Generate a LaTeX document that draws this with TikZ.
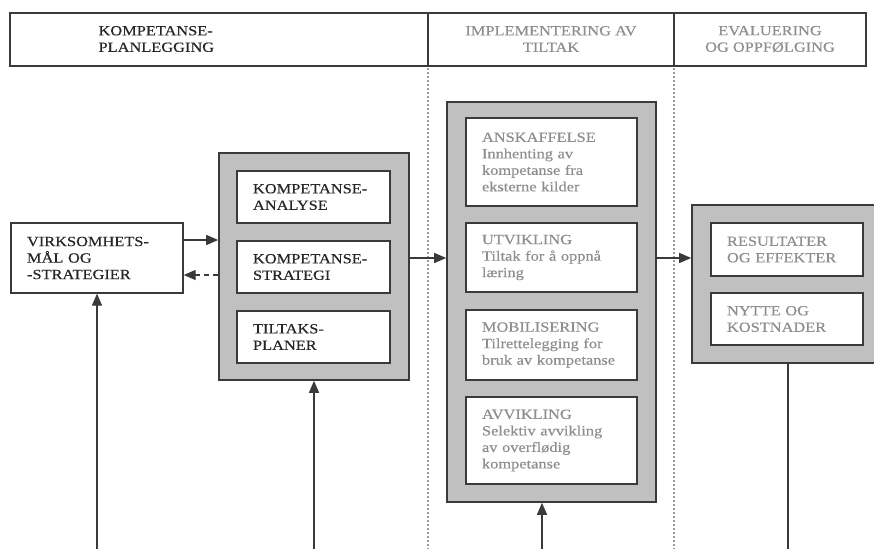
\documentclass[tikz,border=0pt]{standalone}
\usepackage{fontspec}
\setmainfont{Liberation Serif}[FakeStretch=1.17,UprightFeatures={FakeBold=0.35}]
\usetikzlibrary{arrows.meta}
\definecolor{panelgrey}{HTML}{C0C0C0}
\definecolor{edgegrey}{HTML}{3A3A3A}
\definecolor{textgrey}{HTML}{8E8E8E}

\begin{document}
\begin{tikzpicture}[x=1pt,y=-1pt,
    txt/.style={font=\fontsize{14}{16.5}\selectfont,text=black!85},
    faint/.style={text=textgrey},
    panel/.style={draw=edgegrey,fill=panelgrey,line width=1.6pt,inner sep=0pt},
    box/.style={txt,draw=edgegrey,fill=white,line width=1.4pt,inner xsep=16pt,inner ysep=0pt,align=left},
    flow/.style={line width=1.4pt,draw=edgegrey,-{Triangle[length=12pt,width=10pt]}},
    phase/.style={draw=gray!80,line width=1.5pt,dash pattern=on 1.5pt off 2.5pt}]

\clip (0,0) rectangle (874,549);
\fill[white] (0,0) rectangle (874,549);

% phases
\draw[line width=1.5pt,draw=edgegrey] (10,13) rectangle (866,66);
\foreach \x in {428,674} {
    \draw[line width=1.5pt,draw=edgegrey] (\x,13) -- (\x,66);
    \draw[phase] (\x,68) -- (\x,549);
}
\node[txt,align=left,anchor=west] (hplan) at (95,39) {KOMPETANSE-\\PLANLEGGING};
\node[txt,faint,align=center] (himpl) at (551,39) {IMPLEMENTERING AV\\TILTAK};
\node[txt,faint,align=center] (heval) at (770,39) {EVALUERING\\OG OPPFØLGING};

% planning
\node[box,text width=140pt,minimum height=70pt] (goals) at (97,258) {VIRKSOMHETS-\\MÅL OG\\-STRATEGIER};

\node[panel,minimum width=190pt,minimum height=227pt] (plan) at (314,266.5) {};
\node[box,text width=121pt,minimum height=52pt] (analyse) at (313.5,197) {KOMPETANSE-\\ANALYSE};
\node[box,text width=121pt,minimum height=52pt] (strategi) at (313.5,267) {KOMPETANSE-\\STRATEGI};
\node[box,text width=121pt,minimum height=52pt] (tiltak) at (313.5,337) {TILTAKS-\\PLANER};

% implementation
\node[panel,minimum width=209pt,minimum height=400pt] (impl) at (551.5,302) {};
\node[box,faint,text width=139pt,minimum height=88pt] (anskaff) at (551.5,162) {ANSKAFFELSE\\Innhenting av\\kompetanse fra\\eksterne kilder};
\node[box,faint,text width=139pt,minimum height=69pt] (utvikl) at (551.5,257.5) {UTVIKLING\\Tiltak for å oppnå\\læring};
\node[box,faint,text width=139pt,minimum height=70pt] (mobil) at (551.5,345) {MOBILISERING\\Tilrettelegging for\\bruk av kompetanse};
\node[box,faint,text width=139pt,minimum height=87pt] (avvikl) at (551.5,440.5) {AVVIKLING\\Selektiv avvikling\\av overflødig\\kompetanse};

% evaluation
\node[panel,minimum width=208pt,minimum height=158pt] (eval) at (796,284) {};
\node[box,faint,text width=120pt,minimum height=53pt] (result) at (787,249.5) {RESULTATER\\OG EFFEKTER};
\node[box,faint,text width=120pt,minimum height=52pt] (nytte) at (787,319) {NYTTE OG\\KOSTNADER};

% connectors
\coordinate (g1) at ([yshift=18pt]goals.east);
\coordinate (g2) at ([yshift=-17pt]goals.east);
\draw[flow] (g1) -- (g1 -| plan.west);
\draw[flow,dash pattern=on 5pt off 4pt] (g2 -| plan.west) -- (g2);

\coordinate (ab) at ([yshift=8.5pt]plan.east);
\draw[flow] (ab) -- (ab -| impl.west);
\coordinate (bc) at (ab -| impl.east);
\draw[flow] (bc) -- (bc -| eval.west);

\coordinate (s1) at (97,549);
\coordinate (s2) at (314,549);
\coordinate (s3) at (542,549);
\coordinate (s4) at (788,549);
\draw[flow] (s1) -- (goals.south);
\draw[flow] (s2) -- (plan.south);
\draw[flow] (s3) -- (s3 |- impl.south);
\draw[line width=1.4pt,draw=edgegrey] (s4 |- eval.south) -- (s4);

\end{tikzpicture}
\end{document}
